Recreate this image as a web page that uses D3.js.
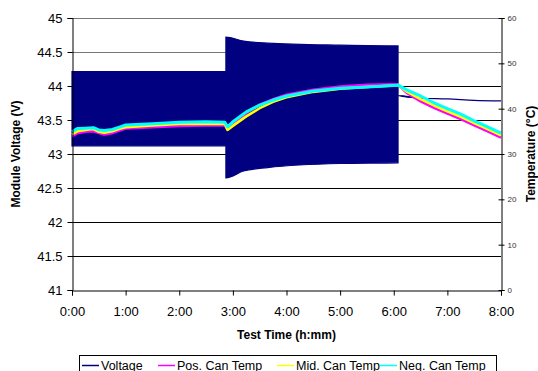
<!DOCTYPE html>
<html lang="en">
<head>
<meta charset="UTF-8">
<title>Module Voltage and Can Temperature</title>
<style>
    body{ margin:0; background:#fff;}
    svg{ display:block;}
    text{ font-family:"Liberation Sans", Arial, sans-serif;}
</style>
</head>
<body>
<script src="https://d3js.org/d3.v7.min.js"></script>
<script>

// voltage band: envelope of the fast cycling (high / low), hours
var voltTime = [0, 2.87, 2.87, 3.2, 3.65, 5.0, 6.08, 6.08, 6.5, 7.0, 7.5, 8.0];
var voltHigh = [44.21, 44.21, 44.72, 44.66, 44.63, 44.60, 44.59, 43.86, 43.82, 43.81, 43.79, 43.78];
var voltLow  = [43.12, 43.12, 42.65, 42.75, 42.80, 42.86, 42.87, 43.86, 43.82, 43.81, 43.79, 43.78];

// can temperatures (deg C)
var tempTime = [0, 0.1, 0.25, 0.4, 0.5, 0.6, 0.75, 0.9, 1.0, 1.5, 2.0, 2.5, 2.85, 2.9, 3.0,
                3.25, 3.5, 3.75, 4.0, 4.5, 5.0, 5.5, 6.0, 6.08, 6.25, 6.5, 6.75, 7.0, 7.25, 7.5, 7.75, 8.0];
var posTemp = [33.9, 34.6, 34.9, 35.0, 34.6, 34.3, 34.6, 35.2, 35.6, 35.9, 36.2, 36.3, 36.3, 35.4, 36.6,
               39.0, 40.9, 42.1, 43.1, 44.2, 44.9, 45.3, 45.4, 45.3, 43.4, 41.6, 40.2, 38.9, 37.7, 36.3, 35.0, 33.6];
var midTemp = [34.3, 35.0, 35.3, 35.5, 34.9, 34.7, 35.0, 35.6, 35.9, 36.3, 36.6, 36.7, 36.6, 35.3, 36.2,
               38.3, 40.1, 41.5, 42.5, 43.7, 44.4, 44.8, 45.1, 45.2, 43.7, 42.1, 40.7, 39.4, 38.2, 36.8, 35.5, 34.1];
var negTemp = [34.9, 35.6, 35.7, 35.8, 35.3, 35.2, 35.4, 36.0, 36.4, 36.7, 37.0, 37.1, 37.0, 36.0, 37.1,
               39.3, 40.8, 41.9, 42.8, 43.9, 44.5, 44.8, 45.1, 45.2, 44.1, 42.8, 41.3, 40.0, 38.8, 37.3, 36.0, 34.6];

var xTicks = [0, 1, 2, 3, 4, 5, 6, 7, 8];
var voltTicks = [41, 41.5, 42, 42.5, 43, 43.5, 44, 44.5, 45];
var tempTicks = [0, 10, 20, 30, 40, 50, 60];
var seriesNames = ["Voltage", "Pos. Can Temp", "Mid. Can Temp", "Neg. Can Temp"];
var seriesColors = ["#000080", "#ff00ff", "#ffff00", "#00ffff"];

var W = 538, H = 371;
var mLeft = 72, mRight = 501, mTop = 18, mBottom = 290;

var svg = d3.select("body").append("svg")
        .attr("width", W)
        .attr("height", H);

var x = d3.scaleLinear().domain([0, 8]).range([mLeft, mRight]);
var yV = d3.scaleLinear().domain([41, 45]).range([mBottom, mTop]);
var yT = d3.scaleLinear().domain([0, 60]).range([mBottom, mTop]);

//gridlines
svg.append("g").selectAll("line")
    .data(voltTicks.slice(1))
    .enter().append("line")
    .attr("x1", mLeft).attr("x2", mRight)
    .attr("y1", function(d){ return Math.round(yV(d)) + 0.5; })
    .attr("y2", function(d){ return Math.round(yV(d)) + 0.5; })
    .attr("stroke", function(d){ return d >= 44.5 ? "#777" : "#000"; })
    .attr("stroke-width", 1);

//voltage band
var vData = voltTime.map(function(t, i){ return { t:t, hi:voltHigh[i], lo:voltLow[i] }; });
svg.append("path")
    .datum(vData)
    .attr("fill", "#000080")
    .attr("stroke", "#000080")
    .attr("stroke-width", 1.2)
    .attr("d", d3.area()
        .curve(d3.curveMonotoneX)
        .x(function(d){ return x(d.t); })
        .y0(function(d){ return yV(d.lo); })
        .y1(function(d){ return yV(d.hi); }));

//temperatures
var tempLine = d3.line()
    .x(function(d){ return x(d.t); })
    .y(function(d){ return yT(d.v); });

[posTemp, midTemp, negTemp].forEach(function(arr, k){
    svg.append("path")
        .datum(tempTime.map(function(t, i){ return { t:t, v:arr[i] }; }))
        .attr("fill", "none")
        .attr("stroke", seriesColors[k + 1])
        .attr("stroke-width", k == 2 ? 3 : 2.5)
        .attr("stroke-linejoin", "round")
        .attr("d", tempLine);
});

//axes
var axL = svg.append("g").attr("transform", "translate(" + (mLeft + 0.5) + ",0)")
    .call(d3.axisLeft(yV).tickValues(voltTicks).tickSize(5).tickPadding(5)
        .tickFormat(function(d){ return d; }));
var axB = svg.append("g").attr("transform", "translate(0," + (mBottom + 0.5) + ")")
    .call(d3.axisBottom(x).tickValues(xTicks).tickSize(5).tickPadding(11)
        .tickFormat(function(d){ return d + ":00"; }));
var axR = svg.append("g").attr("transform", "translate(" + (mRight + 0.5) + ",0)")
    .call(d3.axisRight(yT).tickValues(tempTicks).tickSize(3).tickPadding(3));

[axL, axB, axR].forEach(function(g){
    g.select(".domain").attr("stroke", "#000");
    g.selectAll(".tick line").attr("stroke", "#000");
    g.selectAll("text").attr("fill", "#000").style("font-size", "13px")
        .style("font-family", "'Liberation Sans', Arial, sans-serif");
});
axR.selectAll(".tick line").attr("x1", -3);
axR.selectAll("text").style("font-size", "8px").attr("fill", "#333");

//titles
svg.append("text")
    .attr("transform", "translate(20," + ((mTop + mBottom) / 2) + ") rotate(-90)")
    .attr("text-anchor", "middle")
    .style("font-size", "12px").style("font-weight", "bold")
    .text("Module Voltage (V)");

svg.append("text")
    .attr("transform", "translate(535," + ((mTop + mBottom) / 2) + ") rotate(-90)")
    .attr("text-anchor", "middle")
    .style("font-size", "12px").style("font-weight", "bold")
    .text("Temperature (°C)");

svg.append("text")
    .attr("x", (mLeft + mRight) / 2).attr("y", 339)
    .attr("text-anchor", "middle")
    .style("font-size", "12px").style("font-weight", "bold")
    .text("Test Time (h:mm)");

//legend
var legend = svg.append("g");
legend.append("rect")
    .attr("x", 79.5).attr("y", 355.5).attr("width", 417).attr("height", 20)
    .attr("fill", "#fff").attr("stroke", "#000");

var legX = [82, 158, 277, 380];
seriesNames.forEach(function(name, i){
    legend.append("line")
        .attr("x1", legX[i]).attr("x2", legX[i] + 17)
        .attr("y1", 365.5).attr("y2", 365.5)
        .attr("stroke", seriesColors[i]).attr("stroke-width", 1.5);
    legend.append("text")
        .attr("x", legX[i] + 19).attr("y", 370)
        .style("font-size", "12.5px")
        .text(name);
});

</script>
</body>
</html>
